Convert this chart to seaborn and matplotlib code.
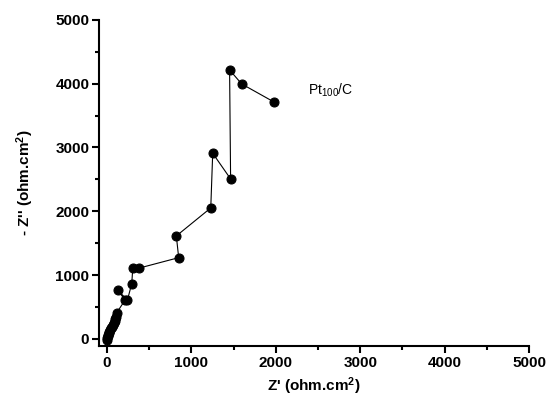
import matplotlib
matplotlib.use("Agg")
import matplotlib.pyplot as plt
import pandas as pd
import seaborn as sns
from matplotlib.ticker import MultipleLocator

z_real = [0, 3, 8, 14, 20, 28, 36, 45, 55, 65, 78, 90, 100, 108, 115,
          214, 125, 242, 293, 305, 373, 849, 821, 1229, 1252, 1464,
          1452, 1595, 1983]
z_imag = [-10, 15, 40, 65, 90, 115, 140, 165, 190, 215, 245, 275, 310, 350, 410,
          611, 765, 611, 867, 1108, 1108, 1274, 1614, 2053, 2910, 2507,
          4215, 3996, 3709]

df = pd.DataFrame({"zr": z_real, "zi": z_imag})

sns.set_style("ticks")
plt.rcParams["font.family"] = ["Liberation Sans", "DejaVu Sans"]
plt.rcParams["mathtext.fontset"] = "custom"
plt.rcParams["mathtext.rm"] = "Liberation Sans"
plt.rcParams["mathtext.bf"] = "Liberation Sans:bold"
plt.rcParams["mathtext.default"] = "regular"
for k in ["text.color", "axes.labelcolor", "xtick.color", "ytick.color", "axes.edgecolor"]:
    plt.rcParams[k] = "black"

fig = plt.figure(figsize=(5.5, 4.05), dpi=100)
ax = fig.add_axes([0.18, 0.1457, 0.782, 0.8053])

sns.lineplot(data=df, x="zr", y="zi", sort=False, estimator=None, ax=ax,
             color="black", linewidth=0.8, marker="o", markersize=6.5,
             markeredgecolor="black", markerfacecolor="black")

ax.set_xlim(-95, 5000)
ax.set_ylim(-110, 5000)
ax.xaxis.set_major_locator(MultipleLocator(1000))
ax.xaxis.set_minor_locator(MultipleLocator(500))
ax.yaxis.set_major_locator(MultipleLocator(1000))
ax.yaxis.set_minor_locator(MultipleLocator(500))
ax.tick_params(which="major", direction="out", length=5, width=1.5, labelsize=11, pad=2)
ax.tick_params(which="minor", direction="out", length=3, width=1.5)
for lab in ax.get_xticklabels() + ax.get_yticklabels():
    lab.set_fontweight("bold")

for s in ["left", "bottom"]:
    ax.spines[s].set_linewidth(1.5)
sns.despine(ax=ax)

ax.set_xlabel(r"Z' (ohm.cm$^\mathbf{2}$)", fontsize=11, fontweight="bold", labelpad=4)
ax.set_ylabel(r"- Z'' (ohm.cm$^\mathbf{2}$)", fontsize=11, fontweight="bold", labelpad=14)

ax.text(2380, 3900, "Pt$_{100}$/C", fontsize=10, va="center", ha="left")

fig.savefig("out.png", dpi=100)
